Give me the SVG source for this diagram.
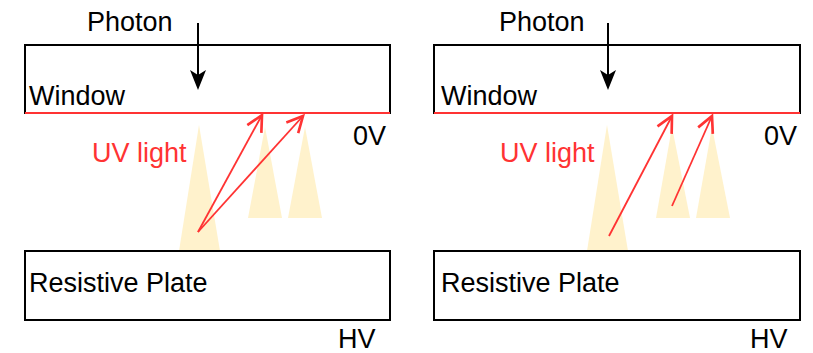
<svg xmlns="http://www.w3.org/2000/svg" width="813" height="353" viewBox="0 0 813 353">
<defs>
<style>
.box{fill:#fff;stroke:#000;stroke-width:2}
.lbl{font-family:"Liberation Sans",Arial,sans-serif;font-size:27px;fill:#000}
.uv{font-family:"Liberation Sans",Arial,sans-serif;font-size:27px;fill:#FF3333}
.tri{fill:#FFF2CC;stroke:none}
.cath{stroke:#FF3333;stroke-width:2}
.ray{stroke:#FF3333;stroke-width:1.8;fill:none;marker-end:url(#open)}
.ph{stroke:#000;stroke-width:2;fill:none}
</style>
<marker id="open" markerUnits="userSpaceOnUse" markerWidth="20" markerHeight="20" viewBox="-13 -7 15 14" refX="0" refY="0" orient="auto">
<path d="M-12,-6 L0,0 L-12,6" fill="none" stroke="#FF3333" stroke-width="2"/>
</marker>
</defs>
<g id="left-panel">
<g id="left-triangles">
<polygon class="tri" points="199,125 220,251 179,251"/>
<polygon class="tri" points="265,127 282,218 248,218"/>
<polygon class="tri" points="305,127 322,218 288,218"/>
</g>
<g id="left-window">
<rect class="box" x="25" y="45" width="365" height="68"/>
<line class="cath" x1="25" y1="113" x2="390" y2="113"/>
<text class="lbl" x="29" y="105">Window</text>
</g>
<g id="left-plate">
<rect class="box" x="25" y="251" width="365" height="69"/>
<text class="lbl" x="29" y="292">Resistive Plate</text>
</g>
<text class="lbl" x="87" y="31">Photon</text>
<text class="lbl" x="353" y="145">0V</text>
<text class="lbl" x="338" y="348">HV</text>
<text class="uv" x="92" y="162">UV light</text>
</g>
<g id="right-panel">
<g id="right-triangles">
<polygon class="tri" points="607,125 628,251 587,251"/>
<polygon class="tri" points="672,127 690,218 656,218"/>
<polygon class="tri" points="712,127 730,218 696,218"/>
</g>
<g id="right-window">
<rect class="box" x="434" y="45" width="366" height="68"/>
<line class="cath" x1="434" y1="113" x2="800" y2="113"/>
<text class="lbl" x="441" y="105">Window</text>
</g>
<g id="right-plate">
<rect class="box" x="434" y="251" width="366" height="69"/>
<text class="lbl" x="441" y="292">Resistive Plate</text>
</g>
<text class="lbl" x="499" y="31">Photon</text>
<text class="lbl" x="764" y="145">0V</text>
<text class="lbl" x="750" y="348">HV</text>
<text class="uv" x="500" y="162">UV light</text>
</g>
<g id="connectors">
<line class="ph" x1="198" y1="23" x2="198" y2="80"/>
<path d="M198,90 L190,70 L198,75 L206,70 Z" fill="#000"/>
<line class="ph" x1="608" y1="23" x2="608" y2="80"/>
<path d="M608,90 L600,70 L608,75 L616,70 Z" fill="#000"/>
<line class="ray" x1="198" y1="232" x2="262" y2="115"/>
<line class="ray" x1="198" y1="232" x2="303" y2="116"/>
<line class="ray" x1="609" y1="236" x2="672" y2="116"/>
<line class="ray" x1="672" y1="206" x2="712" y2="116"/>
</g>
</svg>
